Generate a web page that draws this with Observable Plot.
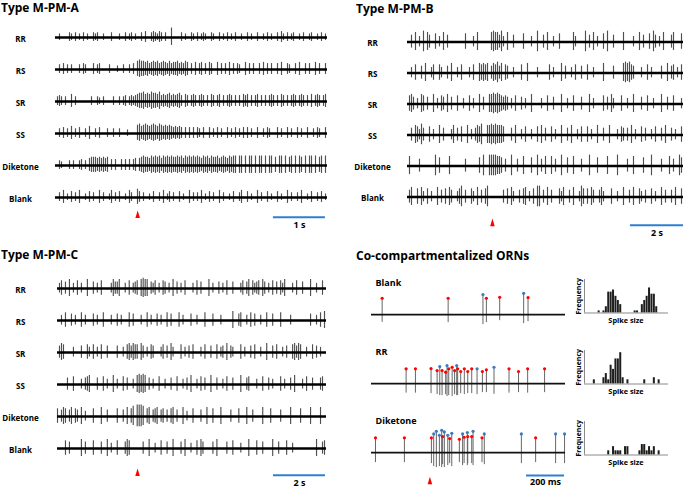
<!DOCTYPE html>
<html><head><meta charset="utf-8">
<script src="https://cdn.jsdelivr.net/npm/d3@7"></script>
<script src="https://cdn.jsdelivr.net/npm/@observablehq/plot@0.6"></script>
<style>
body{margin:0;background:#fff;}
#fig{position:relative;width:685px;height:488px;overflow:hidden;font-family:"Open Sans",sans-serif;background:#fff;}
.ttl{position:absolute;font-weight:700;font-size:12px;line-height:12px;white-space:nowrap;color:#000;}
.pw{position:absolute;}
.pw svg{overflow:visible;}
</style></head><body>
<div id="fig">
  <div class="ttl" style="left:1px;top:2.3px">Type M-PM-A</div>
  <div class="ttl" style="left:356px;top:2.5px">Type M-PM-B</div>
  <div class="ttl" style="left:1px;top:249.3px">Type M-PM-C</div>
  <div class="ttl" style="left:356px;top:250px">Co-compartmentalized ORNs</div>
</div>
<script>
// ---------------- DATA ----------------
// odor stimulus rows of the single-sensillum recordings
const rowLabels = ["RR", "RS", "SR", "SS", "Diketone", "Blank"];

// Spike trains: one character per time bin, digit = spike amplitude class, "." = no spike
// Type M-PM-A (5.23 s shown)
const durationA = 5.23, stimA = 1.58;
const A_RR = "..3....43. 4.3.4.3..4 34..3...4. ..3..4.34. 3..4.5..45 4354.4..8. ...4.3..43 .4.343..43 ..4.3.4.3. 4..3..4.3. .4..3.4.3. .4.53.4.34 ..3.4..34. .3.4.3";
const A_RS = "..4.5.4.4. ..4.54...5 .45....4.. .3..4..4.5 .787767567 6756765756 6756576.5. 6.56.5.65. .6.5.5.6.5 .54..6.5.5 ..5.6.5.5. .5.6..54.. 5.6..5.5.. 6.5..5";
const A_SR = ".454.4..6. 4.......4. .43.4....4 ..4.45.454 5677867687 7685656756 5675.65.56 5.565.5.65 .56.5.565. 5.5.656.5. 56.5.5.565 .5.65.5.56 5.565.5.6. 565.56";
const A_SS = "..4.5.4.6. 4.5..4.6.. 4.5...4..4 ..4...3... .786787678 7687676765 6565.5.5.5 .54.5..5.4 .5.4..5.4. 5.4.5.5.4. .5..4.54.. .5.4..5.4. .5.4..5..4 .54..5";
const A_DK = "..43...4.4 ..45.4.677 7676767.5. 5..5.5.5.5 6.67877687 8786878787 7878687878 7876878687 7867876878 8.88.8.88. 8.88.8.88. 7.88.8.78. 8.87.8.88. 8.78.8";
const A_BL = "..4.6.3.5. 4.6..3.5.4 ..6.4..36. 4.5..3.64. .75.4..3.5 ..4.6.35.4 ..5.3..6.4 .4.6.3.5.4 ..6.4..3.5 ..46..5.3. .6.4..5.3. .5.3..6.4. .4.6..3.5. .4.5.3";
// Type M-PM-B (10.4 s shown)
const durationB = 10.4, stimB = 3.2;
const B_RR = "..5.7.4.8. 75..6.4.7. 5........6 ...4.7.... ..7877584. 7..5....6. ..4..8..5. 7..4..6... ...74....8 .5.7.4..6. 8..5....7. ...4..7.5. .6.85.4.7. ..57...6";
const B_RS = "..4.6..5.7 ..46..64.. 5.7..4.6.. .4.6..7676 7.576857.6 5..4...6.. 7....4.... .6.4...7.5 ..4.6..5.. 6..4....7. ...5....78 7865...4.. 6.4....5.. 7.56.4.6";
const B_SR = ".675.4.76. 5..7.4.65. 7.5..6..4. .6.4..7.5. .778787656 5.4.6..5.4 ..7....4.. 6..5...7.. 4..6...5.. .7.4....6. 5.74...6.. 4..7...5.. 6..4...7.. 5..6...4";
const B_SS = "..5.76485. .6.4..7.5. ..47.5.6.. 7.4.5768.. 778787776. ..5.7..4.6 ..4..6.7.5 ..6.4..7.. 5.7..4.6.. 6.4..7..5. .7...4.65. 5.7.4..6.5 ..4.6..5.7 ..5.4..6";
const B_DK = ".7....5... ....8.6... .7.......5 ......6.8. .8888776.5 ..8..5..7. ..6..8.5.7 ..7.5..8.. 6..7...5.. .8...6.... 7....8.... 5..7....6. ..8....5.. .7.5..86";
const B_BL = ".57..6.74. 6.4..7.5.6 .75..468.5 ..64.7.5.6 8.......5. 6.74..5.67 .4.6.88.5. 7.5...647. .5.7..486. 6.75..574. ..6..4..7. .5.7..64.5 ..6.4..7.5 ..5.7..6";
// Type M-PM-C (10.35 s shown)
const durationC = 10.35, stimC = 3.08;
const C_RR = ".46.5.7.4. 6.4..7..5. 4.6....475 57..4.6.45 6.7877.546 .4.65.4.7. 5.4.6...4. 6.5...7.4. .5.4.6..5. ..46.57.64 56.75.4.6. 5.647...4. 6..5...7.. 4..6.";
const C_RS = "..4.6..5.4 ..6.4...5. 4..6...4.. 5.4...6.5. ..4..6.4.. 5.4..6.5.. .6.4...5.. 4...6...5. ..4.....7. .56..4.6.5 ..4..6..5. ..6....4.. .......5.. 4.6.7";
const C_SR = ".576....4. ..5..64.6. 4.6..5.... 5..4.67576 6.75.4.65. ..46.5.74. ..6.4.5.6. ..4.6..5.. 6.45.7.54. ..6.4..5.6 ..4..7..5. 6..4.5..67 576..4..6. 5.4..";
const C_SS = ".....5..6. ..4.567... 5..6.4..7. 4..6.5..4. 78787.5.4. .6..4..5.. 6..4.5.7.. 4.6.5..7.. 5..4.6..5. ..7..56... 4..6..5.4. ..6.4..5.7 ...4.6..5. ..56.";
const C_DK = "6.576.57.6 5.7.4...6. ..7..5.... 6..5.7.68. 9998.67.56 7.56.5.67. 5..7.4..6. ..5..7..6. ..7....5.. .6...7..5. ...7...6.. ..5....7.. ..6....7.. ..7..";
const C_BL = "....6.5... ..7.5...6. ..5..7.4.. 6...576... ...5..7..4 ..6..5..7. ..5.7..4.. 6.75....5. 7....5..6. ..4...7... 6..5....7. .5...6..4. .......... 7..56";

// Co-compartmentalized ORNs: [time ms, spike height, spike depth, neuron ("r" = large/red, "b" = small/blue)]
const coLabels = ["Blank", "RR", "Diketone"];
const coDuration = 1020, coStim = 307;
const coBlank = [[56,16.6,7.7,"r"],[403,16.6,8,"r"],[586,20.3,10,"b"],[604,16.6,8,"r"],[674,17.6,6,"r"],[800,21.6,9,"b"],[823,17.3,7,"r"]];
const coRR = [[182,15,9.5,"r"],[231,15,9.5,"r"],[313,15.3,10,"r"],[345,13.3,11,"r"],[359,17.3,12,"b"],[371,13.3,12,"r"],[390,11.6,11,"r"],[397,18.3,13,"b"],[406,15,12,"r"],[424,16.6,13,"r"],[437,13.3,11,"r"],[448,18.3,12,"b"],[453,15,12,"r"],[469,12.3,10,"r"],[488,15,11,"r"],[506,12.3,10,"r"],[527,15,10,"r"],[555,15,11,"b"],[583,12.3,9,"r"],[604,14,9,"r"],[644,16.6,10.7,"b"],[723,15,9.5,"r"],[773,12.3,9,"r"],[821,15,9.5,"r"],[910,15,9,"r"]];
const coDik = [[21,15,10,"r"],[173,15,10,"r"],[315,15,11,"r"],[327,19,14,"b"],[341,21.6,15,"b"],[357,17.6,14,"b"],[369,22.6,15,"b"],[374,16.3,12,"r"],[383,21,15,"b"],[401,17.6,13,"b"],[411,14.3,11,"r"],[422,19.6,14,"b"],[462,13.6,10,"r"],[479,19,13,"b"],[487,15.6,11,"r"],[504,20.3,13,"b"],[506,16.3,11,"r"],[527,16.3,11,"r"],[534,21.6,13,"b"],[581,15,10,"r"],[593,19,12,"b"],[788,19,11,"b"],[863,15,10,"r"],[968,19,11,"b"],[1015,19,11,"b"]];

// Spike-size histograms: [bin, frequency]
const histBlank = [[0,1],[2,1],[3,3],[4,10],[5,10],[6,11],[7,8],[8,6],[9,4],[15,1],[16,1],[18,4],[19,6],[20,8],[21,12],[22,9],[23,9],[24,3]];
const histRR = [[-2,2],[2,3],[3,5],[4,2],[5,9],[6,7],[7,12],[8,12],[9,15],[10,3],[12,2],[19,2],[23,3],[25,2]];
const histDik = [[4,2],[6,4],[7,2],[8,2],[9,2],[11,4],[12,4],[17,2],[18,5],[19,5],[20,2],[21,4],[22,2],[23,4],[25,2]];
const histBins = [-6.1, 28.9], histTop = 16;

// scale bars
const barA = {end: 5.19, len: 1, label: "1 s"};
const barB = {end: 10.4, len: 2, label: "2 s"};
const barC = {end: 10.31, len: 2, label: "2 s"};
const barCo = {end: 1015, len: 200, label: "200 ms"};

// ---------------- DRAWING ----------------
const BLUE = "#2f7fd0", RED = "#ff0000", DOTBLUE = "#3d7bbf";
const FONT = "'Open Sans', sans-serif";
const arrowSymbol = {draw(ctx, size) { const r = Math.sqrt(size / Math.PI); ctx.moveTo(0, -r); ctx.lineTo(0.6 * r, r); ctx.lineTo(-0.6 * r, r); ctx.closePath(); }};

function place(node, left, top) {
  const w = document.createElement("div");
  w.className = "pw"; w.style.left = left + "px"; w.style.top = top + "px";
  w.appendChild(node); document.getElementById("fig").appendChild(w);
}

function trainPlot(p) {
  const spikes = [];
  p.labels.forEach((lab, j) => {
    const s = p.trains[j].replace(/\s+/g, "");
    const bw = p.duration / s.length;
    for (let i = 0; i < s.length; i++) {
      const c = s[i];
      if (c >= "1" && c <= "9") spikes.push({trace: lab, t: i * bw, h: +c});
    }
  });
  const last = p.labels[p.labels.length - 1];
  return Plot.plot({
    width: p.width, height: p.height,
    marginLeft: p.ml, marginRight: p.mr, marginTop: p.mt,
    marginBottom: p.height - p.mt - p.band * p.labels.length,
    style: {fontFamily: FONT, background: "transparent", overflow: "visible"},
    x: {domain: [0, p.duration], axis: null},
    y: {domain: [-p.band / 2, p.band / 2], axis: null},
    fy: {domain: p.labels, padding: 0, axis: null},
    marks: [
      Plot.ruleX(spikes, {fy: "trace", x: "t", y1: d => -d.h * p.kDown, y2: d => d.h * p.kUp, stroke: "#505050", strokeWidth: 1.15}),
      Plot.ruleY(p.labels, {fy: d => d, y: () => 0, x1: () => 0, x2: () => p.duration, stroke: "#000", strokeWidth: 2.4}),
      Plot.text(p.labels, {fy: d => d, text: d => d, frameAnchor: "left", dx: p.labelDx, dy: 1.5, textAnchor: "middle", fontWeight: "bold", fontSize: 8, fill: "#000"}),
      Plot.ruleY([p.bar], {fy: () => last, y: () => p.barY, x1: d => d.end - d.len, x2: d => d.end, stroke: BLUE, strokeWidth: 2}),
      Plot.text([p.bar], {fy: () => last, y: () => p.barTextY, x: d => d.end - d.len / 2, text: d => d.label, lineAnchor: "bottom", fontWeight: "bold", fontSize: 9, fill: "#000"}),
      Plot.dot([p.stim], {fy: () => last, x: d => d, y: () => p.arrowY, symbol: arrowSymbol, r: 3.8, fill: RED, stroke: "none"})
    ]
  });
}

place(trainPlot({labels: rowLabels, trains: [A_RR, A_RS, A_SR, A_SS, A_DK, A_BL], duration: durationA, stim: stimA, bar: barA,
  width: 340, height: 238, ml: 55, mr: 13, mt: 19.8, band: 32.4, kUp: 1.2, kDown: 1.0, labelDx: -35,
  barY: -20, barTextY: -31, arrowY: -17}), 0, 0);
place(trainPlot({labels: rowLabels, trains: [B_RR, B_RS, B_SR, B_SS, B_DK, B_BL], duration: durationB, stim: stimB, bar: barB,
  width: 345, height: 242, ml: 67, mr: 2, mt: 23.1, band: 31.8, kUp: 1.4, kDown: 1.25, labelDx: -35,
  barY: -29, barTextY: -40, arrowY: -26}), 340, 0);
place(trainPlot({labels: rowLabels, trains: [C_RR, C_RS, C_SR, C_SS, C_DK, C_BL], duration: durationC, stim: stimC, bar: barC,
  width: 340, height: 248, ml: 57, mr: 14, mt: 30.8, band: 32.4, kUp: 1.3, kDown: 1.15, labelDx: -37,
  barY: -27, barTextY: -38, arrowY: -24}), 0, 240);

// co-compartmentalized traces
const coSpikes = [];
[coBlank, coRR, coDik].forEach((arr, j) => arr.forEach(([t, up, down, cell]) => coSpikes.push({trace: coLabels[j], t, up, down, cell})));
const coBand = 69.6;
place(Plot.plot({
  width: 340, height: 248, marginLeft: 26, marginRight: 120, marginTop: 29.4, marginBottom: 248 - 29.4 - coBand * 3,
  style: {fontFamily: FONT, background: "transparent", overflow: "visible"},
  x: {domain: [0, coDuration], axis: null},
  y: {domain: [-25, coBand - 25], axis: null},
  fy: {domain: coLabels, padding: 0, axis: null},
  marks: [
    Plot.ruleX(coSpikes, {fy: "trace", x: "t", y1: d => -d.down, y2: d => d.up - 1.3, stroke: "#666", strokeWidth: 1}),
    Plot.ruleY(coLabels, {fy: d => d, y: () => 0, x1: () => 0, x2: () => coDuration, stroke: "#111", strokeWidth: 1.7}),
    Plot.dot(coSpikes, {fy: "trace", x: "t", y: "up", r: 1.6, fill: d => d.cell === "r" ? RED : DOTBLUE, stroke: "none"}),
    Plot.text(coLabels, {fy: d => d, y: () => 31.7, frameAnchor: "left", dx: 4, textAnchor: "start", text: d => d, fontWeight: "bold", fontSize: 9, fill: "#000"}),
    Plot.ruleY([barCo], {fy: () => "Diketone", y: () => -23, x1: d => d.end - d.len, x2: d => d.end, stroke: BLUE, strokeWidth: 2}),
    Plot.text([barCo], {fy: () => "Diketone", y: () => -33, x: d => d.end - d.len / 2, text: d => d.label, lineAnchor: "bottom", fontWeight: "bold", fontSize: 9, fill: "#000"}),
    Plot.dot([coStim], {fy: () => "Diketone", x: d => d, y: () => -28, symbol: arrowSymbol, r: 3.8, fill: RED, stroke: "none"})
  ]
}), 345, 240);

// spike-size histograms
const histData = [];
[histBlank, histRR, histDik].forEach((arr, j) => arr.forEach(([bin, count]) => histData.push({trace: coLabels[j], bin, count})));
const hBand = 71.35;
place(Plot.plot({
  width: 113, height: 251, marginLeft: 12, marginRight: 17, marginTop: 36.6, marginBottom: 251 - 36.6 - hBand * 3,
  style: {fontFamily: FONT, background: "transparent", overflow: "visible"},
  x: {domain: histBins, axis: null},
  y: {domain: [-17, 17], axis: null},
  fy: {domain: coLabels, padding: 0, axis: null},
  marks: [
    Plot.rect(histData, {fy: "trace", x1: d => d.bin - 0.5, x2: d => d.bin + 0.5, y1: () => 0, y2: "count", fill: "#1e1e1e", insetLeft: 0.2, insetRight: 0.2}),
    Plot.ruleX(coLabels, {fy: d => d, x: () => histBins[0], y1: () => 0, y2: () => histTop, stroke: "#8a8a8a", strokeWidth: 1}),
    Plot.ruleY(coLabels, {fy: d => d, y: () => 0, x1: () => histBins[0], x2: () => histBins[1], stroke: "#8a8a8a", strokeWidth: 1}),
    Plot.text(coLabels, {fy: d => d, x: () => histBins[0] - 2.2, y: () => histTop / 2, text: () => "Frequency", rotate: -90, fontWeight: "bold", fontSize: 7, fill: "#000"}),
    Plot.text(coLabels, {fy: d => d, x: () => 11.2, y: () => -3.8, text: () => "Spike size", fontWeight: "bold", fontSize: 7.3, fill: "#000"})
  ]
}), 572, 240);
</script>
</body></html>
